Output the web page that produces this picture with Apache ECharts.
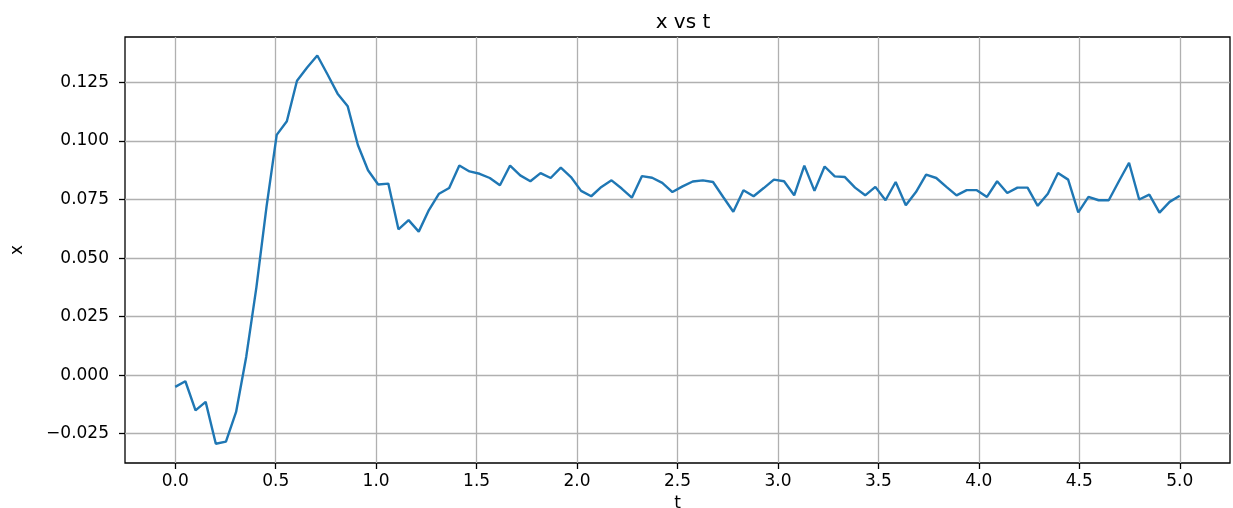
<!DOCTYPE html>
<html>
<head>
<meta charset="utf-8">
<script src="https://cdn.jsdelivr.net/npm/echarts@6/dist/echarts.min.js"></script>
<style>
  html, body { margin: 0; padding: 0; background: #ffffff; }
  #chart { width: 1233px; height: 508px; }
</style>
</head>
<body>
<div id="chart"></div>
<script>
// Sample times (s)
const T = [
  0.0000, 0.0505, 0.1010, 0.1515, 0.2020, 0.2525, 0.3030, 0.3535, 0.4040, 0.4545,
  0.5051, 0.5556, 0.6061, 0.6566, 0.7071, 0.7576, 0.8081, 0.8586, 0.9091, 0.9596,
  1.0101, 1.0606, 1.1111, 1.1616, 1.2121, 1.2626, 1.3131, 1.3636, 1.4141, 1.4646,
  1.5152, 1.5657, 1.6162, 1.6667, 1.7172, 1.7677, 1.8182, 1.8687, 1.9192, 1.9697,
  2.0202, 2.0707, 2.1212, 2.1717, 2.2222, 2.2727, 2.3232, 2.3737, 2.4242, 2.4747,
  2.5253, 2.5758, 2.6263, 2.6768, 2.7273, 2.7778, 2.8283, 2.8788, 2.9293, 2.9798,
  3.0303, 3.0808, 3.1313, 3.1818, 3.2323, 3.2828, 3.3333, 3.3838, 3.4343, 3.4848,
  3.5354, 3.5859, 3.6364, 3.6869, 3.7374, 3.7879, 3.8384, 3.8889, 3.9394, 3.9899,
  4.0404, 4.0909, 4.1414, 4.1919, 4.2424, 4.2929, 4.3434, 4.3939, 4.4444, 4.4949,
  4.5455, 4.5960, 4.6465, 4.6970, 4.7475, 4.7980, 4.8485, 4.8990, 4.9495, 5.0000
];

// Measured response x(t)
const X = [
  -0.0050, -0.0026, -0.0150, -0.0114, -0.0293, -0.0284, -0.0157, 0.0079, 0.0375, 0.0720,
   0.1026,  0.1084,  0.1257,  0.1314,  0.1365,  0.1285,  0.1202, 0.1148, 0.0983, 0.0875,
   0.0814,  0.0818,  0.0623,  0.0662,  0.0613,  0.0705,  0.0775, 0.0799, 0.0895, 0.0870,
   0.0860,  0.0842,  0.0811,  0.0895,  0.0853,  0.0828,  0.0863, 0.0842, 0.0886, 0.0846,
   0.0787,  0.0764,  0.0804,  0.0832,  0.0797,  0.0758,  0.0850, 0.0843, 0.0821, 0.0782,
   0.0806,  0.0827,  0.0832,  0.0825,  0.0761,  0.0698,  0.0790, 0.0764, 0.0799, 0.0835,
   0.0828,  0.0768,  0.0895,  0.0787,  0.0891,  0.0849,  0.0846, 0.0801, 0.0768, 0.0804,
   0.0747,  0.0825,  0.0726,  0.0782,  0.0856,  0.0842,  0.0804, 0.0768, 0.0790, 0.0790,
   0.0761,  0.0828,  0.0778,  0.0801,  0.0801,  0.0723,  0.0775, 0.0863, 0.0835, 0.0695,
   0.0761,  0.0747,  0.0747,  0.0828,  0.0907,  0.0750,  0.0771, 0.0694, 0.0740, 0.0766
];

// Tick positions
const X_TICKS = [0.0, 0.5, 1.0, 1.5, 2.0, 2.5, 3.0, 3.5, 4.0, 4.5, 5.0];
const Y_TICKS = [-0.025, 0.000, 0.025, 0.050, 0.075, 0.100, 0.125];

const FONT = "'DejaVu Sans', sans-serif";
const INK = '#000000';
const GRID_GRAY = '#b0b0b0';

const chart = echarts.init(document.getElementById('chart'), null, { renderer: 'canvas' });

const fmtX = v => v.toFixed(1);
const fmtY = v => {
  const s = Math.abs(v).toFixed(3);
  return v < -1e-9 ? '\u2212' + s : s;
};

chart.setOption({
  animation: false,
  backgroundColor: '#ffffff',
  title: {
    text: 'x vs t',
    left: 678,
    top: 8,
    textAlign: 'center',
    textStyle: { fontFamily: FONT, fontSize: 20, fontWeight: 'normal', color: INK }
  },
  grid: {
    left: 125, right: 3, top: 37, bottom: 45,
    outerBoundsMode: 'none',
    containLabel: false,
    show: true,
    borderColor: INK,
    borderWidth: 1.3,
    backgroundColor: 'transparent'
  },
  xAxis: {
    type: 'value',
    min: -0.25,
    max: 5.25,
    name: 't',
    nameLocation: 'middle',
    nameGap: 27,
    nameTextStyle: { fontFamily: FONT, fontSize: 17, color: INK },
    axisLine: { show: false, onZero: false },
    axisTick: {
      show: true, inside: false, length: 6,
      customValues: X_TICKS,
      lineStyle: { color: INK, width: 1.3 }
    },
    axisLabel: {
      customValues: X_TICKS,
      margin: 10,
      formatter: fmtX,
      fontFamily: FONT, fontSize: 17, color: INK
    },
    splitLine: { show: true, lineStyle: { color: GRID_GRAY, width: 1.3 } }
  },
  yAxis: {
    type: 'value',
    min: -0.0375,
    max: 0.1444,
    name: 'x',
    nameLocation: 'middle',
    nameGap: 99,
    nameRotate: 90,
    nameTextStyle: { fontFamily: FONT, fontSize: 17, color: INK },
    axisLine: { show: false, onZero: false },
    axisTick: {
      show: true, inside: false, length: 6,
      customValues: Y_TICKS,
      lineStyle: { color: INK, width: 1.3 }
    },
    axisLabel: {
      customValues: Y_TICKS,
      margin: 16,
      formatter: fmtY,
      fontFamily: FONT, fontSize: 17, color: INK
    },
    splitLine: { show: true, lineStyle: { color: GRID_GRAY, width: 1.3 } }
  },
  series: [{
    type: 'line',
    data: T.map((t, i) => [t, X[i]]),
    showSymbol: false,
    smooth: false,
    lineStyle: { color: '#1f77b4', width: 2.4 },
    z: 3
  }]
});
</script>
</body>
</html>
